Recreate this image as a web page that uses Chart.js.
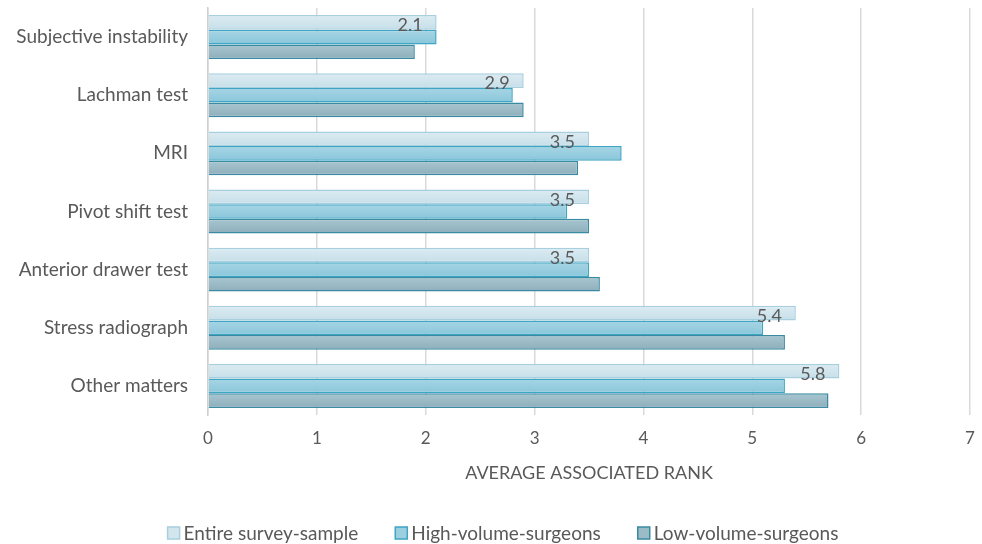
<!DOCTYPE html>
<html>
<head>
<meta charset="utf-8">
<script src="https://cdn.jsdelivr.net/npm/chart.js@4"></script>
<style>
  html, body { margin: 0; padding: 0; background: #fff; }
  #wrap { width: 982px; height: 544px; position: relative; }
</style>
</head>
<body>
<div id="wrap"><canvas id="chartCanvas"></canvas></div>
<script>
// datos
const categories = ['Subjective instability', 'Lachman test', 'MRI', 'Pivot shift test',
  'Anterior drawer test', 'Stress radiograph', 'Other matters'];
const entireSample = [2.1, 2.9, 3.5, 3.5, 3.5, 5.4, 5.8];
const highVolume = [2.1, 2.8, 3.8, 3.3, 3.5, 5.1, 5.3];
const lowVolume = [1.9, 2.9, 3.4, 3.5, 3.6, 5.3, 5.7];
const xTicks = [0, 1, 2, 3, 4, 5, 6, 7];

const FONT = 'Lato, "Open Sans", sans-serif';
const TEXT = '#595959';
const CAT_PCT = 0.756;
const legendFill = ['#d3e6ee', '#9ccfe0', '#9bbcc7'];

// degradado vertical por barra
function barGradient(top, bottom, dsIndex) {
  return function (ctx) {
    const chart = ctx.chart;
    const y = chart.scales.y;
    if (!y || ctx.dataIndex === undefined) return top;
    const band = Math.abs(y.getPixelForValue(1) - y.getPixelForValue(0));
    const t = band * CAT_PCT / 3;
    const start = y.getPixelForValue(ctx.dataIndex) - band * CAT_PCT / 2 + dsIndex * t;
    if (!isFinite(start) || !isFinite(t) || t <= 0) return top;
    const g = chart.ctx.createLinearGradient(0, start, 0, start + t);
    g.addColorStop(0, top);
    g.addColorStop(1, bottom);
    return g;
  };
}

// etiqueta de valor solo para la primera serie
const valueLabels = {
  id: 'valueLabels',
  afterDatasetsDraw(chart) {
    const meta = chart.getDatasetMeta(0);
    const c = chart.ctx;
    c.save();
    c.font = '18px ' + FONT;
    c.fillStyle = TEXT;
    c.textAlign = 'right';
    c.textBaseline = 'middle';
    meta.data.forEach((bar, i) => {
      c.fillText(entireSample[i].toFixed(1), bar.x - 14, bar.y + 3);
    });
    c.restore();
  }
};

// leyenda dibujada a mano (cuadros pequenos)
const bottomLegend = {
  id: 'bottomLegend',
  afterDraw(chart) {
    const c = chart.ctx;
    const box = 12, gap = 4, between = 37;
    c.save();
    c.font = '19px ' + FONT;
    c.textBaseline = 'middle';
    c.textAlign = 'left';
    const items = chart.data.datasets.map((ds, i) => ({
      text: ds.label, w: c.measureText(ds.label).width, fill: legendFill[i], stroke: ds.borderColor
    }));
    const total = items.reduce((s, it) => s + box + gap + it.w, 0) + between * (items.length - 1);
    let x = 503 - total / 2;
    const y = 533;
    items.forEach(it => {
      c.fillStyle = it.fill;
      c.fillRect(x, y - box / 2, box, box);
      c.strokeStyle = it.stroke;
      c.lineWidth = 1.5;
      c.strokeRect(x, y - box / 2, box, box);
      c.fillStyle = TEXT;
      c.fillText(it.text, x + box + gap, y + 1);
      x += box + gap + it.w + between;
    });
    c.restore();
  }
};

const data = {
  labels: categories,
  datasets: [
    {
      label: 'Entire survey-sample',
      data: entireSample,
      backgroundColor: barGradient('#dcebf2', '#c6dfe9', 0),
      borderColor: '#a8cfde',
      borderWidth: 1.5
    },
    {
      label: 'High-volume-surgeons',
      data: highVolume,
      backgroundColor: barGradient('#a6d5e5', '#8ac6da', 1),
      borderColor: '#3ea5c4',
      borderWidth: 1.5
    },
    {
      label: 'Low-volume-surgeons',
      data: lowVolume,
      backgroundColor: barGradient('#a8c6d0', '#8daebb', 2),
      borderColor: '#3a8aa1',
      borderWidth: 1.5
    }
  ]
};

const config = {
  type: 'bar',
  data: data,
  options: {
    indexAxis: 'y',
    responsive: true,
    maintainAspectRatio: false,
    animation: false,
    layout: { padding: { top: 8, right: 12, left: 0, bottom: 52 } },
    datasets: {
      bar: { categoryPercentage: CAT_PCT, barPercentage: 1, borderSkipped: 'left' }
    },
    scales: {
      x: {
        min: 0,
        max: 7,
        afterBuildTicks: (scale) => { scale.ticks = xTicks.map(v => ({ value: v })); },
        afterFit: (scale) => {
          scale.height = 77;
          scale.paddingLeft = 0;
          scale.paddingRight = 0;
        },
        grid: { color: '#d9d9d9', lineWidth: 1.5, drawTicks: false },
        border: { display: false },
        ticks: { color: TEXT, font: { family: FONT, size: 17 }, padding: 13 },
        title: {
          display: true,
          text: 'AVERAGE ASSOCIATED RANK',
          color: TEXT,
          font: { family: FONT, size: 18 },
          padding: { top: 11, bottom: 8 }
        }
      },
      y: {
        afterFit: (scale) => {
          scale.width = 208;
          scale.paddingTop = 0;
          scale.paddingBottom = 0;
        },
        grid: { display: false, drawTicks: false },
        border: { display: true, color: '#d0d0d0', width: 1.5 },
        ticks: { color: TEXT, font: { family: FONT, size: 19 }, padding: 20 }
      }
    },
    plugins: {
      legend: { display: false },
      tooltip: { enabled: false }
    }
  },
  plugins: [valueLabels, bottomLegend]
};

new Chart(document.getElementById('chartCanvas').getContext('2d'), config);
</script>
</body>
</html>
